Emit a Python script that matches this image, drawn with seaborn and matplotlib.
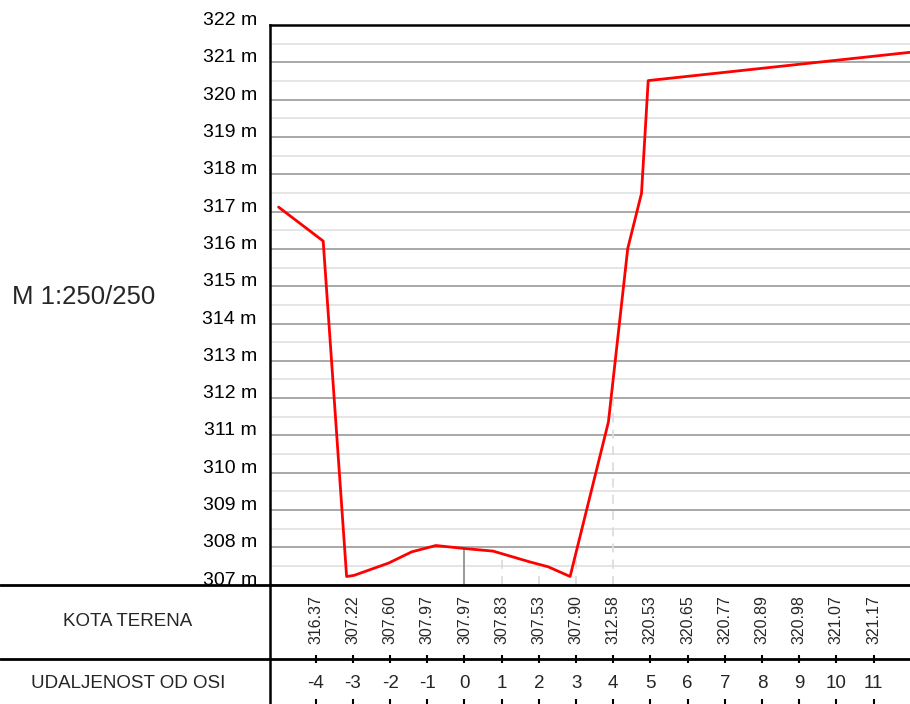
import pandas as pd
import numpy as np
import matplotlib.pyplot as plt
import seaborn as sns
from matplotlib.lines import Line2D

# Terrain profile (distance from axis, elevation)
prof_x = [-5.0, -3.80, -3.17, -2.97, -2.04, -1.42, -0.77, 0.0, 0.77, 1.76, 2.25, 2.84, 3.87, 4.39, 4.76, 4.94, 12.0]
prof_z = [317.12, 316.21, 307.22, 307.25, 307.58, 307.88, 308.05, 307.97, 307.90, 307.61, 307.48, 307.22, 311.36, 316.01, 317.49, 320.51, 321.27]

# Table rows
dist = [-4, -3, -2, -1, 0, 1, 2, 3, 4, 5, 6, 7, 8, 9, 10, 11]
kota = [316.37, 307.22, 307.60, 307.97, 307.97, 307.83, 307.53, 307.90, 312.58,
        320.53, 320.65, 320.77, 320.89, 320.98, 321.07, 321.17]

# verticals drawn down from the terrain
solid_at = [0]
dashed_at = [1, 2, 3, 4]

y_major = list(range(307, 323))
y_minor = [v + 0.5 for v in range(307, 322)]

sns.set_style('white')
plt.rcParams['font.family'] = ['Liberation Sans', 'DejaVu Sans']

W, H = 910, 704
fig = plt.figure(figsize=(9.1, 7.04), dpi=100)
ax_l, ax_r, ax_t, ax_b = 270, 910, 25, 584.7
ax = fig.add_axes([ax_l / W, 1 - ax_b / H, (ax_r - ax_l) / W, (ax_b - ax_t) / H])

df = pd.DataFrame({'x': prof_x, 'z': prof_z})
sns.lineplot(data=df, x='x', y='z', sort=False, estimator=None, color='red', lw=2, ax=ax, zorder=5)

ax.set_xlim(-5.23, 11.98)
ax.set_ylim(307, 322)

# grid
ax.set_yticks(y_major)
ax.set_yticklabels([f'{v} m' for v in y_major], fontsize=14)
ax.set_yticks(y_minor, minor=True)
for t in ax.get_yticklabels():
    t.set_va('baseline')
ax.grid(which='major', axis='y', color='#999999', lw=1.2)
ax.grid(which='minor', axis='y', color='#e0e0e0', lw=1.2)
ax.grid(axis='x', visible=False)
ax.tick_params(axis='y', which='major', direction='inout', length=11, width=1.5, pad=4, colors='black')
ax.tick_params(axis='y', which='minor', direction='inout', length=5, width=1.3, colors='black')

ax.set_xticks(dist)
ax.set_xticklabels([])
ax.tick_params(axis='x', direction='out', length=5, width=1.5, colors='black')

for s in ['right', 'bottom']:
    ax.spines[s].set_visible(False)
ax.spines['left'].set_linewidth(1.8)
ax.spines['left'].set_color('black')
ax.spines['top'].set_linewidth(1.8)
ax.spines['top'].set_color('black')

# vertical lines from the terrain to the bottom
for x in solid_at:
    ax.vlines(x, 307, kota[dist.index(x)], color='#888888', lw=1.2, zorder=3)
for x in dashed_at:
    ax.vlines(x, 307, kota[dist.index(x)], color='#dddddd', lw=1.3, linestyles=(0, (5, 4)), zorder=3)

ax.set_xlabel('')
ax.set_ylabel('')

# table below the plot
tr = ax.get_xaxis_transform()
hpx = ax_b - ax_t
def frac(py):
    return -(py - ax_b) / hpx

ax.vlines(dist, frac(655), frac(663), color='black', lw=1.5, transform=tr, clip_on=False)
ax.vlines(dist, frac(699), frac(704), color='black', lw=1.5, transform=tr, clip_on=False)

for x, v in zip(dist, kota):
    ax.text(x, frac(620), f'{v:.2f}', rotation=90, ha='center', va='center',
            fontsize=11.5, transform=tr, clip_on=False)
for x in dist:
    ax.text(x, frac(684), str(x), ha='center', va='center', fontsize=13.5, transform=tr, clip_on=False)

# full width lines of the table
fig.add_artist(Line2D([0, 1], [1 - ax_b / H, 1 - ax_b / H], color='black', lw=2, transform=fig.transFigure))
fig.add_artist(Line2D([0, 1], [1 - 659 / H, 1 - 659 / H], color='black', lw=2, transform=fig.transFigure))
fig.add_artist(Line2D([ax_l / W, ax_l / W], [0, 1 - ax_b / H], color='black', lw=1.8, transform=fig.transFigure))

fig.text(128 / W, 1 - 621 / H, 'KOTA TERENA', ha='center', va='center', fontsize=13.5)
fig.text(128 / W, 1 - 684 / H, 'UDALJENOST OD OSI', ha='center', va='center', fontsize=13.5)
fig.text(12 / W, 1 - 297 / H, 'M 1:250/250', ha='left', va='center', fontsize=18.5)

plt.savefig('out.png', dpi=100)
print("Plot saved to out.png")
